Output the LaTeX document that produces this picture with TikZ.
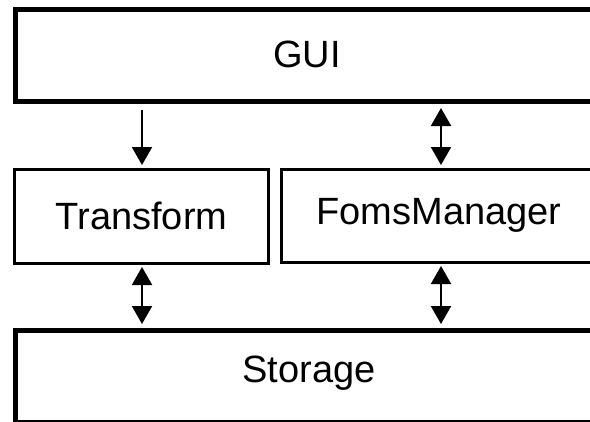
\documentclass[tikz,border=0pt]{standalone}
\usepackage{fontspec}
\setmainfont{Liberation Sans}
\usetikzlibrary{arrows.meta}
\begin{document}
\begin{tikzpicture}[x=1bp,y=-1bp,
  box/.style={draw=black,fill=white,rectangle,inner sep=0pt,
    font=\fontsize{38bp}{44bp}\selectfont,text height=27.2bp},
  thick box/.style={box,line width=5bp},
  thin box/.style={box,line width=3bp},
  arr/.style={line width=2bp,-{Triangle[length=18bp,width=20bp]}},
  darr/.style={line width=2bp,{Triangle[length=18bp,width=20bp]}-{Triangle[length=18bp,width=20bp]}}]
\clip (0,0) rectangle (590,421);
\fill[white] (0,0) rectangle (590,421);
\node[thick box,minimum width=583bp,minimum height=92bp,text depth=3bp] (gui) at (307,55.5) {GUI};
\node[thin box,minimum width=254bp,minimum height=94bp,text depth=1bp] (tr) at (141.5,216.5) {Transform};
\node[thin box,minimum width=315bp,minimum height=93bp,text depth=10bp] (fm) at (439,216) {FomsManager};
\node[thick box,minimum width=587bp,minimum height=91.5bp,text depth=14.5bp] (st) at (309,376.25) {Storage};
\coordinate (xl) at (142,0);
\coordinate (xr) at (441,0);
\draw[arr,shorten <=6bp,shorten >=3bp] (gui.south -| xl) -- (tr.north -| xl);
\draw[darr,shorten <=4bp,shorten >=3bp] (gui.south -| xr) -- (fm.north -| xr);
\draw[darr,shorten <=2bp,shorten >=4bp] (tr.south -| xl) -- (st.north -| xl);
\draw[darr,shorten <=2bp,shorten >=4bp] (fm.south -| xr) -- (st.north -| xr);
\end{tikzpicture}
\end{document}
